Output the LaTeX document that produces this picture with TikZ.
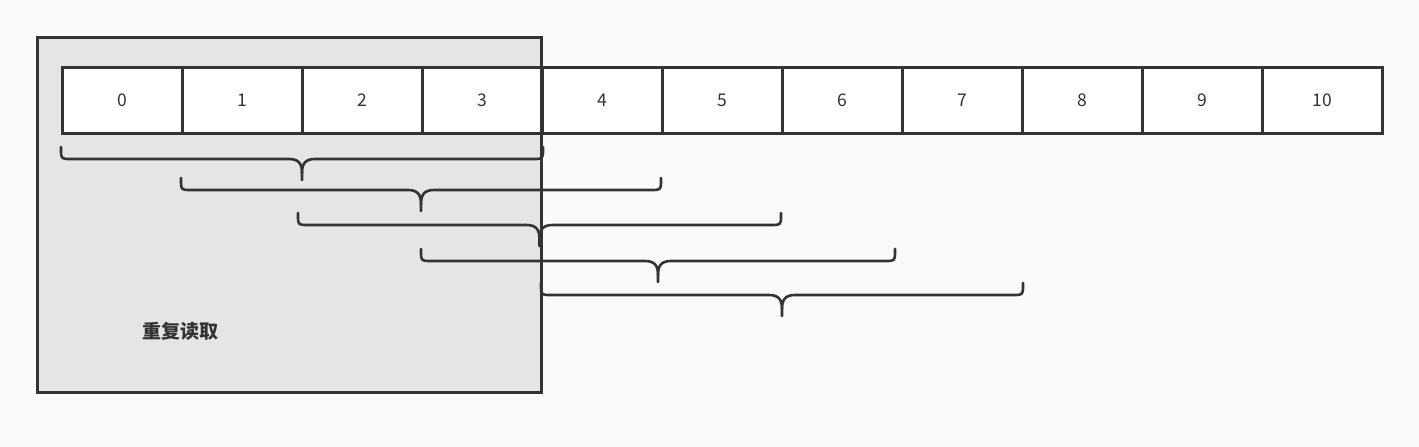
\documentclass[tikz,border=0pt]{standalone}
\usepackage{fontspec}
\setmainfont{Noto Sans CJK SC}
\begin{document}
\begin{tikzpicture}[x=1pt,y=-1pt,
  line width=2.6pt,
  every node/.style={font=\fontsize{17.5}{19}\selectfont, text=black!80},
  cell/.style={draw=black!80, fill=white, line width=2.6pt, minimum width=120pt, minimum height=66pt, inner sep=0pt, anchor=north west, text depth=0pt, text height=12.5pt},
  zone/.style={draw=black!80, fill=black!10, line width=3pt},
  bracepath/.style={draw=black!80, line width=2.6pt, line cap=round, line join=round}]
\fill[black!2] (0,0) rectangle (1419,447);
\useasboundingbox (0,0) rectangle (1419,447);
% gray region
\path[zone] (37,37) rectangle (541,392);
\node[font=\fontsize{19}{21}\selectfont\bfseries, text=black!80] (lbl) at (180,331) {重复读取};
% cells
\foreach \i in {0,...,10}{
  \node[cell] (c\i) at ({61+120*\i},66) {\i};
}
% zone right edge on top
\draw[black!80, line width=3pt] (541,37) -- (541,392);
% braces
\foreach \xa/\xb/\t in {61/543/147, 181/661/178, 298/781/213, 421/895/249, 541/1023/283}{
  \pgfmathsetmacro{\b}{\t+12}
  \pgfmathsetmacro{\xm}{(\xa+\xb)/2}
  \draw[bracepath] (\xa,\t) -- (\xa,\b-10) .. controls (\xa,\b) .. (\xa+10,\b)
     -- (\xm-13,\b) .. controls (\xm-3,\b) and (\xm,\b+5) .. (\xm,\b+14) -- (\xm,\b+21);
  \draw[bracepath] (\xm,\b+14) .. controls (\xm,\b+5) and (\xm+3,\b) .. (\xm+13,\b)
     -- (\xb-10,\b) .. controls (\xb,\b) .. (\xb,\b-10) -- (\xb,\t);
}
\end{tikzpicture}
\end{document}
